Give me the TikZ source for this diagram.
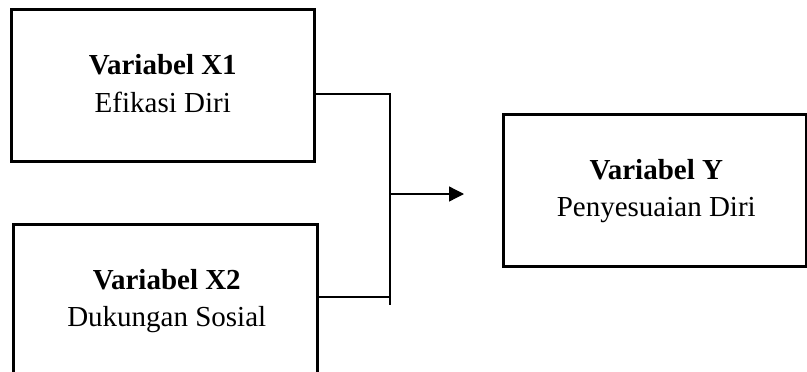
\documentclass[tikz,border=0pt]{standalone}
\usepackage{fontspec}
\setmainfont{Liberation Serif}
\usetikzlibrary{arrows.meta,calc}

\tikzset{
  varbox/.style={draw, line width=2.5pt, rectangle, inner sep=0pt,
    minimum width=303pt, minimum height=152pt, anchor=north west},
  headline/.style={anchor=base, inner sep=0pt, font=\fontsize{29}{36}\selectfont\bfseries},
  subline/.style={anchor=base, inner sep=0pt, font=\fontsize{29}{36}\selectfont},
  link/.style={line width=1.1pt, line cap=rect},
  flow/.style={line width=1.3pt, -{Triangle[length=15pt,width=15pt]}}
}

\begin{document}
\begin{tikzpicture}[x=1pt, y=-1pt]
  \useasboundingbox (0,0) rectangle (807,372);
  \clip (0,0) rectangle (807,372);

  % variable boxes
  \node[varbox] (x1) at (10,8) {};
  \node[varbox, minimum width=304pt] (x2) at (12,223) {};
  \node[varbox] (y) at (502,113) {};

  % labels
  \node[headline] (x1h) at ($(x1.north)+(0,66.3)$) {Variabel X1};
  \node[subline]  (x1s) at ($(x1h.base)+(0,38)$) {Efikasi Diri};
  \node[headline] (x2h) at ($(x2.north)+(1.5,66.3)$) {Variabel X2};
  \node[subline]  (x2s) at ($(x2h.base)+(0,37.5)$) {Dukungan Sosial};
  \node[headline] (yh)  at ($(y.north)+(1.5,66.3)$) {Variabel Y};
  \node[subline]  (ys)  at ($(yh.base)+(0,37)$) {Penyesuaian Diri};

  % joining bracket
  \coordinate (j1) at (390,94);
  \coordinate (j2) at (390,297);
  \coordinate (jb) at (390,304);
  \coordinate (jm) at (390,194);
  \coordinate (tip) at (464,194);

  \draw[link] (x1.east |- j1) -- (j1) -- (jb);
  \draw[link] (x2.east |- j2) -- (j2);
  \draw[flow] (jm) -- (tip);
\end{tikzpicture}
\end{document}
